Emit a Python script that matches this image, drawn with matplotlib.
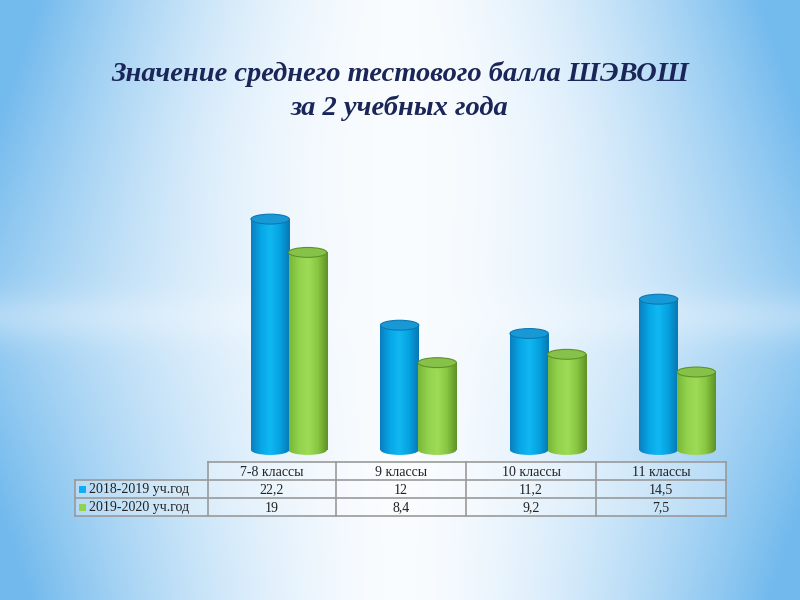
import numpy as np
import matplotlib
matplotlib.use("Agg")
import matplotlib.pyplot as plt
from matplotlib.patches import Ellipse, Rectangle

# ---- data ----
categories = ["7-8 классы", "9 классы", "10 классы", "11 классы"]
series_names = ["2018-2019 уч.год", "2019-2020 уч.год"]
values_2018 = [22.2, 12, 11.2, 14.5]
values_2019 = [19, 8.4, 9.2, 7.5]
labels_2018 = ["22,2", "12", "11,2", "14,5"]
labels_2019 = ["19", "8,4", "9,2", "7,5"]
title = "Значение среднего тестового балла ШЭВОШ\nза 2 учебных года"

W, H = 800, 600
fig = plt.figure(figsize=(8, 6), dpi=100)

# ---- background ----
bg = fig.add_axes([0, 0, 1, 1])
xx, yy = np.meshgrid(np.linspace(0, 1, 400), np.linspace(0, 1, 300))
d = np.abs(xx - 0.5) * 2
t = np.clip(d, 0, 1) ** 1.6
diag = 0.7 + 0.45 * np.abs(yy - 0.52) * 2
t = t * diag
band = np.exp(-((yy - 0.53) / 0.04) ** 2) * 0.25
t = np.clip(t - band * t, 0, 1)
glow = np.exp(-(((xx - 0.5) / 0.25) ** 2 + ((yy - 0.25) / 0.25) ** 2))
t = np.clip(t * (1 - 0.5 * glow), 0, 1)
edge = np.array([0.45, 0.73, 0.93])
white = np.array([0.98, 0.99, 1.0])
img = white[None, None, :] * (1 - t[..., None]) + edge[None, None, :] * t[..., None]
bg.imshow(img, extent=[0, W, H, 0], aspect="auto", zorder=0)
bg.set_xlim(0, W)
bg.set_ylim(H, 0)
bg.axis("off")

# ---- title ----
bg.text(400, 91, title, ha="center", va="center", fontsize=20.5,
        family="Liberation Serif", style="italic", weight="bold",
        color="#1b2658", linespacing=1.4, zorder=5)

# ---- chart axes ----
px_per_unit = 10.4
base_px = 450
ax_h = 300
ax = fig.add_axes([208 / W, 1 - base_px / H, (726 - 208) / W, ax_h / H])
ax.axis("off")
ax.patch.set_alpha(0)

bw = 0.296
offsets = [-0.02, 0.27]
cmap_blue = matplotlib.colors.LinearSegmentedColormap.from_list(
    "b", ["#0a7fbf", "#07a6e6", "#10b8f2", "#06a2e0", "#0878b4"])
cmap_green = matplotlib.colors.LinearSegmentedColormap.from_list(
    "g", ["#78b83a", "#92d24c", "#9edc58", "#88c642", "#5f9226"])
top_colors = [("#1899d6", "#0b78b4"), ("#86c24a", "#5f9226")]
grad = np.linspace(0, 1, 64)[None, :]
ell_h = 0.95

x = np.arange(len(categories))
for s, (vals, cmap) in enumerate([(values_2018, cmap_blue), (values_2019, cmap_green)]):
    bars = ax.bar(x + offsets[s], vals, width=bw, color="none", edgecolor="none", zorder=2 + s)
    for b in bars:
        x0 = b.get_x()
        h = b.get_height()
        be = Ellipse((x0 + bw / 2, 0), bw, ell_h, transform=ax.transData,
                     facecolor="none", edgecolor="none")
        ax.add_patch(be)
        im2 = ax.imshow(grad, cmap=cmap, extent=[x0, x0 + bw, -ell_h, 0.01],
                        aspect="auto", zorder=2 + s)
        im2.set_clip_path(be)
        im = ax.imshow(grad, cmap=cmap, extent=[x0, x0 + bw, 0, h],
                       aspect="auto", zorder=2 + s)
        im.set_clip_path(b)
        te = Ellipse((x0 + bw / 2, h), bw, ell_h, facecolor=top_colors[s][0],
                     edgecolor=top_colors[s][1], linewidth=0.8, zorder=2.5 + s)
        ax.add_patch(te)
ax.set_xlim(-0.5, 3.5)
ax.set_ylim(-1, ax_h / px_per_unit - 1)
ax.set_position([208 / W, 1 - (base_px + px_per_unit) / H, (726 - 208) / W, ax_h / H])

# ---- data table ----
col_x = [75, 208, 336, 466, 596, 726]
row_y = [462, 480, 498, 516]
lc = "#9a9a9a"
tbl_font = dict(family="Liberation Serif", fontsize=10, color="#222222", zorder=6)
bg.add_patch(Rectangle((col_x[1], row_y[0]), col_x[-1] - col_x[1], row_y[1] - row_y[0],
                       facecolor="white", alpha=0.25, edgecolor="none", zorder=4))
bg.add_patch(Rectangle((col_x[0], row_y[1]), col_x[-1] - col_x[0], row_y[3] - row_y[1],
                       facecolor="white", alpha=0.25, edgecolor="none", zorder=4))
bg.plot([col_x[1], col_x[-1]], [row_y[0], row_y[0]], color=lc, lw=1.2, zorder=5)
for yv in row_y[1:]:
    bg.plot([col_x[0], col_x[-1]], [yv, yv], color=lc, lw=1.2, zorder=5)
bg.plot([col_x[0], col_x[0]], [row_y[1], row_y[3]], color=lc, lw=1.2, zorder=5)
for xv in col_x[1:]:
    bg.plot([xv, xv], [row_y[0], row_y[3]], color=lc, lw=1.2, zorder=5)
for i, c in enumerate(categories):
    cx = (col_x[i + 1] + col_x[i + 2]) / 2
    bg.text(cx, (row_y[0] + row_y[1]) / 2 + 1, c, ha="center", va="center", **tbl_font)
    bg.text(cx, (row_y[1] + row_y[2]) / 2 + 1, labels_2018[i], ha="center", va="center", **tbl_font)
    bg.text(cx, (row_y[2] + row_y[3]) / 2 + 1, labels_2019[i], ha="center", va="center", **tbl_font)
leg_colors = ["#10aef0", "#92d24c"]
for r in range(2):
    yc = (row_y[r + 1] + row_y[r + 2]) / 2
    bg.add_patch(Rectangle((79, yc - 3.5), 7, 7, facecolor=leg_colors[r], edgecolor="none", zorder=6))
    bg.text(89, yc + 1, series_names[r], ha="left", va="center", **tbl_font)

fig.savefig("out.png", dpi=100)
